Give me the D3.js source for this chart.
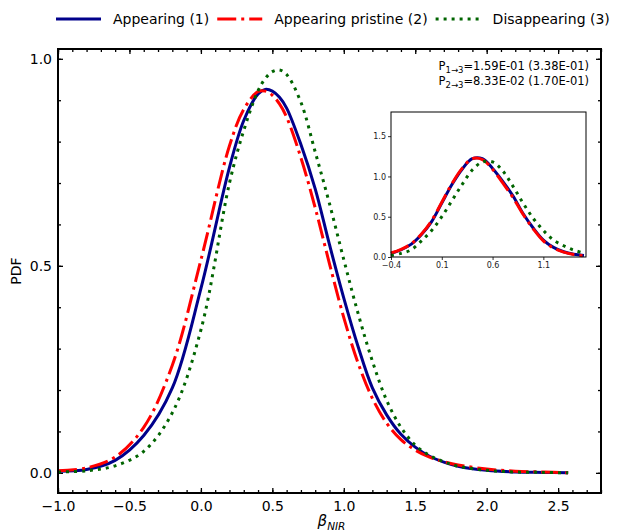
<!DOCTYPE html>
<html>
<head>
<meta charset="utf-8">
<script src="https://cdn.jsdelivr.net/npm/d3@7"></script>
<style>
  body { margin: 0; background: #fff; }
  text { font-family: "DejaVu Sans", sans-serif; }
</style>
</head>
<body>
<div id="chart"></div>
<script>
// main panel: beta_NIR grid and PDF of each sample
var xMain = [-1.0, -0.8, -0.6, -0.4, -0.2, 0.0, 0.2, 0.3, 0.4, 0.45, 0.5, 0.55, 0.6, 0.7, 0.8, 0.9, 1.0,
             1.1, 1.2, 1.3, 1.4, 1.5, 1.6, 1.7, 1.8, 2.0, 2.2, 2.4, 2.57];
var appearing = [0.004, 0.008, 0.030, 0.090, 0.205, 0.445, 0.738, 0.851, 0.915, 0.926, 0.922, 0.907, 0.881, 0.793, 0.686,
                 0.551, 0.422, 0.305, 0.205, 0.140, 0.093, 0.062, 0.040, 0.026, 0.016, 0.006, 0.002, 0.001, 0.0];
var pristine = [0.005, 0.012, 0.038, 0.110, 0.260, 0.514, 0.790, 0.878, 0.921, 0.922, 0.912, 0.891, 0.859, 0.761, 0.640,
                0.505, 0.375, 0.265, 0.180, 0.120, 0.080, 0.055, 0.038, 0.027, 0.019, 0.009, 0.004, 0.002, 0.0];
var disappearing = [0.002, 0.005, 0.017, 0.052, 0.145, 0.345, 0.700, 0.827, 0.923, 0.952, 0.969, 0.973, 0.962, 0.895, 0.775,
                    0.650, 0.515, 0.385, 0.270, 0.175, 0.110, 0.067, 0.042, 0.027, 0.016, 0.006, 0.002, 0.001, 0.0];

// inset panel
var xInset = [-0.4, -0.3, -0.2, -0.1, 0.0, 0.1, 0.2, 0.3, 0.4, 0.5, 0.6, 0.7, 0.8, 0.9, 1.0, 1.1, 1.2, 1.3, 1.4, 1.5];
var insetAppearing = [0.045, 0.09, 0.16, 0.28, 0.44, 0.67, 0.90, 1.09, 1.22, 1.22, 1.10, 0.94, 0.76, 0.54, 0.36, 0.21, 0.12, 0.065, 0.035, 0.02];
var insetPristine = [0.05, 0.095, 0.165, 0.285, 0.45, 0.68, 0.91, 1.10, 1.22, 1.21, 1.09, 0.92, 0.74, 0.53, 0.35, 0.20, 0.11, 0.06, 0.03, 0.015];
var insetDisappearing = [0.02, 0.045, 0.09, 0.20, 0.33, 0.50, 0.70, 0.90, 1.08, 1.18, 1.18, 1.07, 0.88, 0.67, 0.48, 0.33, 0.21, 0.14, 0.085, 0.05];

var seriesNames = ["Appearing (1)", "Appearing pristine (2)", "Disappearing (3)"];
var annotations = [["1\u21923", "=1.59E-01 (3.38E-01)"], ["2\u21923", "=8.33E-02 (1.70E-01)"]];

var mainXTicks = [-1.0, -0.5, 0.0, 0.5, 1.0, 1.5, 2.0, 2.5];
var mainYTicks = [0.0, 0.5, 1.0];
var insetXTicks = [-0.4, 0.1, 0.6, 1.1];
var insetYTicks = [0.0, 0.5, 1.0, 1.5];

var styles = [
    { color: "#00008b", dash: null },
    { color: "#ff0000", dash: "19,5,3,5" },
    { color: "#006400", dash: "3,5" }
];

var width = 621, height = 532;
var svg = d3.select("#chart").append("svg")
    .attr("width", width)
    .attr("height", height);

// main axes box
var box = { left: 58, right: 601, top: 49, bottom: 493 };

var x = d3.scaleLinear().domain([-1.0, 2.8]).range([box.left, box.right]);
var y = d3.scaleLinear().domain([-0.0487, 1.0237]).range([box.bottom, box.top]);

var fmt1 = d3.format(".1f");
var minorX = d3.range(-1.0, 2.81, 0.1).map(function (d) { return +d.toFixed(2); });
var minorY = d3.range(0, 1.01, 0.1).map(function (d) { return +d.toFixed(2); });

function styleAxis(g) {
    g.select(".domain").remove();
    g.selectAll(".tick line").attr("stroke", "#000").attr("stroke-width", 1.3);
    g.selectAll(".tick text")
        .attr("fill", "#000")
        .style("font-size", "14px")
        .style("font-family", "'DejaVu Sans', sans-serif");
}

// bottom
svg.append("g").attr("transform", "translate(0," + box.bottom + ")")
    .call(d3.axisBottom(x).tickValues(minorX).tickSize(-3).tickFormat(""))
    .call(styleAxis);
svg.append("g").attr("transform", "translate(0," + box.bottom + ")")
    .call(d3.axisBottom(x).tickValues(mainXTicks).tickSize(-5).tickPadding(8).tickFormat(fmt1))
    .call(styleAxis);
// top
svg.append("g").attr("transform", "translate(0," + box.top + ")")
    .call(d3.axisTop(x).tickValues(minorX).tickSize(-3).tickFormat(""))
    .call(styleAxis);
svg.append("g").attr("transform", "translate(0," + box.top + ")")
    .call(d3.axisTop(x).tickValues(mainXTicks).tickSize(-5).tickFormat(""))
    .call(styleAxis);
// left
svg.append("g").attr("transform", "translate(" + box.left + ",0)")
    .call(d3.axisLeft(y).tickValues(minorY).tickSize(-3).tickFormat(""))
    .call(styleAxis);
svg.append("g").attr("transform", "translate(" + box.left + ",0)")
    .call(d3.axisLeft(y).tickValues(mainYTicks).tickSize(-5).tickPadding(6).tickFormat(fmt1))
    .call(styleAxis);
// right
svg.append("g").attr("transform", "translate(" + box.right + ",0)")
    .call(d3.axisRight(y).tickValues(minorY).tickSize(-3).tickFormat(""))
    .call(styleAxis);
svg.append("g").attr("transform", "translate(" + box.right + ",0)")
    .call(d3.axisRight(y).tickValues(mainYTicks).tickSize(-5).tickFormat(""))
    .call(styleAxis);

// curves
var mainData = [appearing, pristine, disappearing];
var line = d3.line()
    .x(function (d) { return x(d[0]); })
    .y(function (d) { return y(d[1]); })
    .curve(d3.curveCatmullRom.alpha(0.5));

mainData.forEach(function (vals, i) {
    svg.append("path")
        .datum(xMain.map(function (xv, j) { return [xv, vals[j]]; }))
        .attr("fill", "none")
        .attr("stroke", styles[i].color)
        .attr("stroke-width", 3)
        .attr("stroke-dasharray", styles[i].dash)
        .attr("d", line);
});

// frame
svg.append("rect")
    .attr("x", box.left).attr("y", box.top)
    .attr("width", box.right - box.left).attr("height", box.bottom - box.top)
    .attr("fill", "none").attr("stroke", "#000").attr("stroke-width", 2);

// axis labels
svg.append("text")
    .attr("text-anchor", "middle")
    .attr("transform", "translate(21," + ((box.top + box.bottom) / 2) + ") rotate(-90)")
    .style("font-size", "14px")
    .text("PDF");

var xl = svg.append("text")
    .attr("text-anchor", "middle")
    .attr("x", (box.left + box.right) / 2 + 2)
    .attr("y", 526)
    .style("font-size", "15px");
xl.append("tspan").style("font-style", "italic").text("\u03b2");
xl.append("tspan").attr("dy", 4).style("font-size", "10.5px").style("font-style", "italic").text("NIR");

// annotation
annotations.forEach(function (a, i) {
    var t = svg.append("text")
        .attr("text-anchor", "end")
        .attr("x", 589)
        .attr("y", 69.5 + i * 15)
        .style("font-size", "11.5px");
    t.append("tspan").text("P");
    t.append("tspan").attr("dy", 3).style("font-size", "8.5px").text(a[0]);
    t.append("tspan").attr("dy", -3).text(a[1]);
});

// inset
var ibox = { left: 391, right: 586, top: 112, bottom: 257 };
var xi = d3.scaleLinear().domain([-0.4, 1.52]).range([ibox.left, ibox.right]);
var yi = d3.scaleLinear().domain([0, 1.8]).range([ibox.bottom, ibox.top]);

svg.append("rect")
    .attr("x", ibox.left).attr("y", ibox.top)
    .attr("width", ibox.right - ibox.left).attr("height", ibox.bottom - ibox.top)
    .attr("fill", "#fff");

function styleInset(g) {
    g.select(".domain").remove();
    g.selectAll(".tick line").attr("stroke", "#000").attr("stroke-width", 0.8);
    g.selectAll(".tick text")
        .attr("fill", "#222")
        .style("font-size", "8px")
        .style("font-family", "'DejaVu Sans', sans-serif");
}

svg.append("g").attr("transform", "translate(0," + ibox.bottom + ")")
    .call(d3.axisBottom(xi).tickValues(insetXTicks).tickSize(3).tickPadding(2).tickFormat(fmt1))
    .call(styleInset);
svg.append("g").attr("transform", "translate(" + ibox.left + ",0)")
    .call(d3.axisLeft(yi).tickValues(insetYTicks).tickSize(3).tickPadding(2).tickFormat(fmt1))
    .call(styleInset);

var lineI = d3.line()
    .x(function (d) { return xi(d[0]); })
    .y(function (d) { return yi(d[1]); })
    .curve(d3.curveCatmullRom.alpha(0.5));

[insetAppearing, insetPristine, insetDisappearing].forEach(function (vals, i) {
    svg.append("path")
        .datum(xInset.map(function (xv, j) { return [xv, vals[j]]; }))
        .attr("fill", "none")
        .attr("stroke", styles[i].color)
        .attr("stroke-width", 3)
        .attr("stroke-dasharray", styles[i].dash)
        .attr("d", lineI);
});

svg.append("rect")
    .attr("x", ibox.left).attr("y", ibox.top)
    .attr("width", ibox.right - ibox.left).attr("height", ibox.bottom - ibox.top)
    .attr("fill", "none").attr("stroke", "#000").attr("stroke-width", 1);

// legend above the plot
var legend = svg.append("g").attr("transform", "translate(0,19)");
var lx = 56;
seriesNames.forEach(function (name, i) {
    legend.append("line")
        .attr("x1", lx).attr("x2", lx + 45)
        .attr("y1", 0).attr("y2", 0)
        .attr("stroke", styles[i].color)
        .attr("stroke-width", 3)
        .attr("stroke-dasharray", styles[i].dash);
    var t = legend.append("text")
        .attr("x", lx + 57)
        .attr("y", 5)
        .style("font-size", "14px")
        .text(name);
    lx = lx + 57 + t.node().getComputedTextLength() + 8;
});
</script>
</body>
</html>
